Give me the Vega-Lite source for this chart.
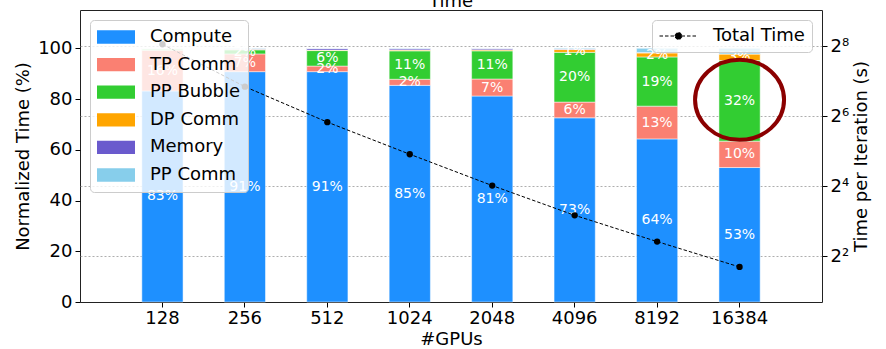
{
  "$schema": "https://vega.github.io/schema/vega-lite/v6.json",
  "width": 742,
  "height": 292,
  "autosize": {"type": "none"},
  "padding": {"left": 80, "top": 10, "right": 64, "bottom": 47},
  "title": {"text": "Time", "fontSize": 18, "font": "DejaVu Sans", "fontWeight": "normal", "offset": -15, "baseline": "alphabetic", "anchor": "middle", "frame": "group", "color": "black"},
  "datasets": {
    "parts": [
      {"part": "Compute", "rank": 0},
      {"part": "TP Comm", "rank": 1},
      {"part": "PP Bubble", "rank": 2},
      {"part": "DP Comm", "rank": 3},
      {"part": "Memory", "rank": 4},
      {"part": "PP Comm", "rank": 5}
    ],
    "bars": [
      {"gpus": "128", "part": "Compute", "pct": 0.832},
      {"gpus": "128", "part": "TP Comm", "pct": 0.160},
      {"gpus": "128", "part": "PP Bubble", "pct": 0.005},
      {"gpus": "128", "part": "DP Comm", "pct": 0.001},
      {"gpus": "128", "part": "Memory", "pct": 0.001},
      {"gpus": "128", "part": "PP Comm", "pct": 0.001},
      {"gpus": "256", "part": "Compute", "pct": 0.908},
      {"gpus": "256", "part": "TP Comm", "pct": 0.070},
      {"gpus": "256", "part": "PP Bubble", "pct": 0.016},
      {"gpus": "256", "part": "DP Comm", "pct": 0.002},
      {"gpus": "256", "part": "Memory", "pct": 0.002},
      {"gpus": "256", "part": "PP Comm", "pct": 0.002},
      {"gpus": "512", "part": "Compute", "pct": 0.908},
      {"gpus": "512", "part": "TP Comm", "pct": 0.022},
      {"gpus": "512", "part": "PP Bubble", "pct": 0.061},
      {"gpus": "512", "part": "DP Comm", "pct": 0.002},
      {"gpus": "512", "part": "Memory", "pct": 0.006},
      {"gpus": "512", "part": "PP Comm", "pct": 0.001},
      {"gpus": "1024", "part": "Compute", "pct": 0.854},
      {"gpus": "1024", "part": "TP Comm", "pct": 0.024},
      {"gpus": "1024", "part": "PP Bubble", "pct": 0.112},
      {"gpus": "1024", "part": "DP Comm", "pct": 0.003},
      {"gpus": "1024", "part": "Memory", "pct": 0.005},
      {"gpus": "1024", "part": "PP Comm", "pct": 0.002},
      {"gpus": "2048", "part": "Compute", "pct": 0.812},
      {"gpus": "2048", "part": "TP Comm", "pct": 0.067},
      {"gpus": "2048", "part": "PP Bubble", "pct": 0.111},
      {"gpus": "2048", "part": "DP Comm", "pct": 0.004},
      {"gpus": "2048", "part": "Memory", "pct": 0.005},
      {"gpus": "2048", "part": "PP Comm", "pct": 0.001},
      {"gpus": "4096", "part": "Compute", "pct": 0.726},
      {"gpus": "4096", "part": "TP Comm", "pct": 0.062},
      {"gpus": "4096", "part": "PP Bubble", "pct": 0.196},
      {"gpus": "4096", "part": "DP Comm", "pct": 0.011},
      {"gpus": "4096", "part": "Memory", "pct": 0.002},
      {"gpus": "4096", "part": "PP Comm", "pct": 0.003},
      {"gpus": "8192", "part": "Compute", "pct": 0.643},
      {"gpus": "8192", "part": "TP Comm", "pct": 0.129},
      {"gpus": "8192", "part": "PP Bubble", "pct": 0.194},
      {"gpus": "8192", "part": "DP Comm", "pct": 0.016},
      {"gpus": "8192", "part": "Memory", "pct": 0.001},
      {"gpus": "8192", "part": "PP Comm", "pct": 0.017},
      {"gpus": "16384", "part": "Compute", "pct": 0.530},
      {"gpus": "16384", "part": "TP Comm", "pct": 0.104},
      {"gpus": "16384", "part": "PP Bubble", "pct": 0.318},
      {"gpus": "16384", "part": "DP Comm", "pct": 0.026},
      {"gpus": "16384", "part": "Memory", "pct": 0.000},
      {"gpus": "16384", "part": "PP Comm", "pct": 0.022}
    ],
    "time": [
      {"gpus": "128", "seconds": 265},
      {"gpus": "256", "seconds": 114.5},
      {"gpus": "512", "seconds": 56.8},
      {"gpus": "1024", "seconds": 30.1},
      {"gpus": "2048", "seconds": 16.2},
      {"gpus": "4096", "seconds": 9.0},
      {"gpus": "8192", "seconds": 5.35},
      {"gpus": "16384", "seconds": 3.24}
    ],
    "marker": [
      {"gpus": "16384", "pct": 0.797}
    ]
  },
  "layer": [
    {
      "data": {"name": "bars"},
      "transform": [
        {"lookup": "part", "from": {"data": {"name": "parts"}, "key": "part", "fields": ["rank"]}}
      ],
      "layer": [
        {
          "mark": {"type": "bar", "stroke": "white", "strokeWidth": 0.5},
          "encoding": {
            "x": {"field": "gpus", "type": "ordinal", "sort": ["128", "256", "512", "1024", "2048", "4096", "8192", "16384"], "scale": {"paddingInner": 0.5, "paddingOuter": 0.75}, "axis": {"title": "#GPUs", "labelAngle": 0, "labelPadding": 2, "titlePadding": 3}},
            "y": {"field": "pct", "type": "quantitative", "stack": "zero", "scale": {"domain": [0, 1.151], "nice": false, "zero": false}, "axis": {"orient": "left", "title": "Normalized Time (%)", "values": [0, 0.2, 0.4, 0.6, 0.8, 1.0], "labelExpr": "format(datum.value*100, 'd')", "labelPadding": 3, "titlePadding": 5}},
            "order": {"field": "rank", "type": "quantitative", "sort": "ascending"},
            "color": {"field": "part", "type": "nominal", "sort": ["Compute", "TP Comm", "PP Bubble", "DP Comm", "Memory", "PP Comm"], "scale": {"domain": ["Compute", "TP Comm", "PP Bubble", "DP Comm", "Memory", "PP Comm"], "range": ["#1E90FF", "#FA8072", "#32CD32", "#FFA500", "#6A5ACD", "#87CEEB"]},
              "legend": {"orient": "top-left", "offset": 10, "title": null, "fillColor": "rgba(255,255,255,0.8)", "strokeColor": "#cccccc", "cornerRadius": 4, "padding": 7, "labelFontSize": 18, "labelFont": "DejaVu Sans", "labelColor": "black", "symbolType": "M-1,-0.35L1,-0.35L1,0.35L-1,0.35Z", "symbolSize": 1444, "symbolStrokeWidth": 0, "symbolOpacity": 1, "labelOffset": 15, "rowPadding": 7.6, "clipHeight": 20, "labelLimit": 300, "zindex": 0}}
          }
        },
        {
          "mark": {"type": "text", "fontSize": 14, "font": "DejaVu Sans"},
          "encoding": {
            "x": {"field": "gpus", "type": "ordinal", "sort": ["128", "256", "512", "1024", "2048", "4096", "8192", "16384"]},
            "y": {"field": "pct", "type": "quantitative", "stack": "zero", "bandPosition": 0.5},
            "order": {"field": "rank", "type": "quantitative", "sort": "ascending"},
            "color": {"field": "part", "type": "nominal", "sort": ["Compute", "TP Comm", "PP Bubble", "DP Comm", "Memory", "PP Comm"]},
            "fill": {"value": "white"},
            "text": {"field": "pct", "type": "quantitative", "format": ".0%"},
            "opacity": {"condition": {"test": "datum.pct >= 0.0095 && datum.part !== 'Memory' && datum.part !== 'PP Comm'", "value": 1}, "value": 0}
          }
        }
      ]
    },
    {
      "data": {"name": "marker"},
      "mark": {"type": "point", "shape": "M-1,0A1,0.9,0,1,1,1,0A1,0.9,0,1,1,-1,0Z", "size": 7921, "filled": false, "stroke": "#8B0000", "strokeWidth": 4, "opacity": 1},
      "encoding": {
        "x": {"field": "gpus", "type": "ordinal", "sort": ["128", "256", "512", "1024", "2048", "4096", "8192", "16384"]},
        "y": {"field": "pct", "type": "quantitative", "scale": {"domain": [0, 1.151], "nice": false, "zero": false}, "axis": null}
      }
    },
    {
      "data": {"name": "time"},
      "mark": {"type": "line", "color": "black", "strokeWidth": 1, "point": {"filled": true, "size": 40, "color": "black"}},
      "encoding": {
        "x": {"field": "gpus", "type": "ordinal", "sort": ["128", "256", "512", "1024", "2048", "4096", "8192", "16384"]},
        "y": {"field": "seconds", "type": "quantitative", "scale": {"type": "log", "base": 2, "domain": [1.62, 521.8], "nice": false, "zero": false}, "axis": {"orient": "right", "title": "Time per Iteration (s)", "titleAngle": 270, "titleBaseline": "top", "values": [4, 16, 64, 256], "labelExpr": "datum.value == 4 ? '2²' : datum.value == 16 ? '2⁴' : datum.value == 64 ? '2⁶' : '2⁸'", "grid": true, "gridDash": [2, 2], "gridColor": "#999999", "gridWidth": 0.8, "labelPadding": 3, "titlePadding": 4}},
        "strokeDash": {"datum": "Total Time", "scale": {"domain": ["Total Time"], "range": [[3.5, 2]]},
          "legend": {"orient": "top-right", "offset": 10, "title": null, "zindex": 2, "fillColor": "rgba(255,255,255,0.8)", "strokeColor": "#cccccc", "cornerRadius": 4, "padding": 7, "labelFontSize": 18, "labelFont": "DejaVu Sans", "labelColor": "black", "symbolType": "M-1,0L1,0M-0.18,0A0.18,0.18,0,1,1,0.18,0A0.18,0.18,0,1,1,-0.18,0", "symbolSize": 1444, "symbolStrokeColor": "black", "symbolFillColor": "black", "symbolStrokeWidth": 1, "labelOffset": 15, "clipHeight": 18, "labelLimit": 300,
            "encode": {"symbols": {"update": {"fill": {"value": "black"}, "stroke": {"value": "black"}, "opacity": {"value": 1}}}}}
        }
      }
    }
  ],
  "resolve": {"scale": {"y": "independent"}},
  "config": {
    "font": "DejaVu Sans",
    "view": {"stroke": "#222222", "strokeWidth": 1},
    "axis": {"labelFontSize": 18, "titleFontSize": 18, "labelColor": "black", "titleColor": "black", "tickColor": "black", "tickSize": 5, "titleFontWeight": "normal", "domain": false, "grid": false, "labelFont": "DejaVu Sans", "titleFont": "DejaVu Sans"}
  }
}
